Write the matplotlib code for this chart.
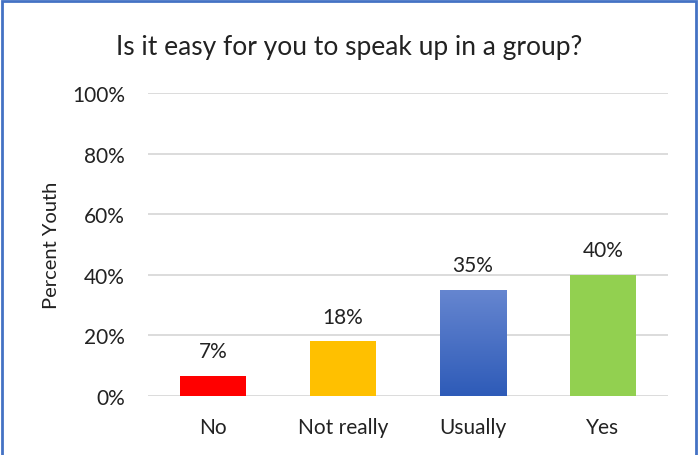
import numpy as np
import matplotlib
matplotlib.use("Agg")
import matplotlib.pyplot as plt
from matplotlib.patches import Rectangle
from matplotlib.colors import LinearSegmentedColormap

plt.rcParams["font.family"] = ["Lato", "DejaVu Sans"]

categories = ["No", "Not really", "Usually", "Yes"]
percents = [6.6, 18, 35, 40]
colors = ["#FF0000", "#FFC000", "#4472C4", "#92D050"]
y_ticks = [0, 20, 40, 60, 80, 100]

fig = plt.figure(figsize=(6.98, 4.56), dpi=100)
ax = fig.add_axes([148 / 698, 1 - 397 / 456, 520 / 698, 303 / 456])

x = np.arange(len(categories))
bars = ax.bar(x, percents, width=0.51, color=colors, zorder=2)

# gradient fill for the "Usually" bar
grad_bar = bars[2]
grad_bar.set_facecolor("none")
bx, by = grad_bar.get_x(), grad_bar.get_y()
bw, bh = grad_bar.get_width(), grad_bar.get_height()
cmap = LinearSegmentedColormap.from_list("blue_grad", ["#2E5BB8", "#6686D0"])
grad = np.linspace(0, 1, 256).reshape(-1, 1)
img = ax.imshow(grad, cmap=cmap, origin="lower", aspect="auto",
                extent=[bx, bx + bw, by, by + bh], zorder=2)
img.set_clip_path(grad_bar)

for xi, v in zip(x, percents):
    ax.text(xi, v + 4.8, f"{v:.0f}%", ha="center", va="bottom",
            fontsize=15, color="#222222")

ax.set_xlim(-0.5, len(categories) - 0.5)
ax.set_ylim(0, 100)
ax.set_yticks(y_ticks)
ax.set_yticklabels([f"{t}%" for t in y_ticks])
ax.set_xticks(x)
ax.set_xticklabels(categories)
ax.tick_params(axis="both", length=0, labelsize=15, colors="#222222")
ax.tick_params(axis="y", pad=16.5)
ax.tick_params(axis="x", pad=15)
ax.grid(axis="y", color="#D9D9D9", linewidth=1.3, zorder=0)
for s in ax.spines.values():
    s.set_visible(False)

ax.set_ylabel("Percent Youth", fontsize=14.5, color="#222222", labelpad=9)
fig.text(0.5, 1 - 47 / 456, "Is it easy for you to speak up in a group?",
         ha="center", va="center", fontsize=19, color="#222222")

# chart frame
fig.patches.append(Rectangle((1.5 / 698, -0.05), 694 / 698, 1.05 - 2 / 456,
                             transform=fig.transFigure, fill=False,
                             edgecolor="#4472C4", linewidth=2))

fig.savefig("out.png", dpi=100)
